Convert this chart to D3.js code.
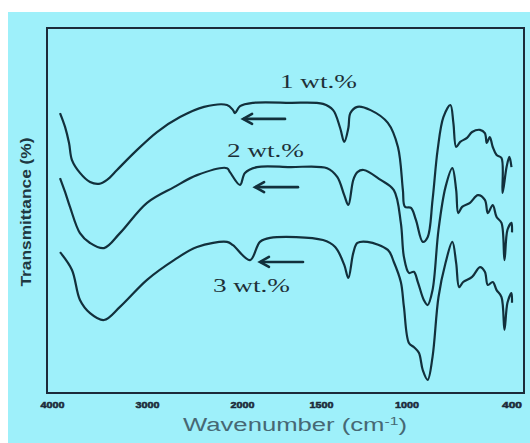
<!DOCTYPE html>
<html>
<head>
<meta charset="utf-8">
<script src="https://cdn.jsdelivr.net/npm/d3@7"></script>
<style>
  html, body { margin: 0; padding: 0; background: #fff; }
</style>
</head>
<body>
<div id="ftir-chart"></div>
<script>
// wavenumber ticks (cm-1) and where they sit; the spectrum axis is split at 2000
const tickValues = [4000, 3000, 2000, 1500, 1000, 400];
const tickLabels = ["4000", "3000", "2000", "1500", "1000", "400"];

// transmittance in arbitrary % units, curves are offset vertically
const wave1 = [3922, 3869, 3827, 3796, 3712, 3606, 3512, 3427, 3322, 3143, 2901, 2659, 2406, 2164, 2101, 2080, 2027, 1934, 1700, 1491, 1432, 1391, 1367, 1343, 1331, 1290, 1213, 1112, 1053, 1024, 1012, 977, 949, 910, 882, 854, 825, 792, 752, 735, 719, 696, 657, 628, 583, 555, 544, 527, 510, 488, 460, 454, 431, 415, 403];
const trans1 = [76.7, 72.9, 68.5, 63.8, 60.3, 57.8, 57.3, 58.4, 61.1, 65.8, 71.5, 75.6, 78.4, 78.9, 77.5, 76.7, 78.6, 79.5, 79.5, 79.2, 77.5, 72.6, 68.8, 72.6, 76.7, 78.4, 77.5, 74.0, 67.4, 55.6, 51.0, 50.7, 47.4, 41.4, 42.7, 52.9, 66.6, 75.6, 78.9, 74.0, 67.4, 68.8, 69.9, 71.5, 72.1, 71.2, 68.5, 70.1, 67.4, 65.2, 64.4, 54.8, 61.9, 64.7, 61.9];

const wave2 = [3922, 3869, 3817, 3712, 3606, 3459, 3291, 3006, 2722, 2480, 2164, 2133, 2027, 1985, 1909, 1700, 1467, 1408, 1367, 1343, 1314, 1290, 1254, 1154, 1077, 1036, 1018, 989, 961, 938, 904, 882, 854, 820, 780, 741, 719, 707, 685, 640, 595, 555, 538, 510, 488, 460, 443, 426, 403, 400];
const trans2 = [58.9, 55.1, 51.0, 43.8, 41.1, 39.7, 43.8, 52.1, 56.4, 59.7, 61.6, 60.5, 57.0, 60.3, 61.9, 61.9, 61.6, 59.2, 54.2, 51.5, 58.4, 60.5, 61.1, 58.4, 55.6, 46.6, 37.3, 32.9, 33.2, 30.4, 25.5, 24.1, 28.2, 44.7, 56.4, 61.6, 55.6, 49.3, 51.0, 52.1, 54.2, 52.9, 49.3, 51.5, 48.2, 46.6, 36.4, 44.7, 46.6, 44.0];

const wave3 = [3922, 3796, 3712, 3606, 3459, 3291, 3006, 2722, 2480, 2164, 2101, 1953, 1890, 1826, 1491, 1420, 1367, 1343, 1314, 1290, 1231, 1112, 1077, 1036, 1018, 989, 961, 932, 910, 882, 854, 820, 780, 741, 719, 702, 679, 628, 583, 555, 538, 510, 488, 460, 443, 426, 403, 400];
const trans3 = [38.6, 33.7, 25.5, 21.9, 20.0, 23.6, 31.0, 36.4, 40.0, 41.4, 40.5, 36.4, 41.4, 42.5, 41.9, 40.0, 35.1, 31.5, 38.4, 41.1, 41.4, 39.2, 35.9, 30.4, 23.6, 13.7, 12.6, 11.0, 6.3, 3.6, 9.9, 26.3, 35.6, 41.4, 35.6, 29.0, 30.4, 31.8, 34.5, 33.2, 29.6, 30.4, 28.2, 26.3, 17.3, 24.7, 27.4, 24.7];

// sample names, where they are written, and the arrows pointing at the ~2000 cm-1 band
const seriesNames = ["1 wt.%", "2 wt.%", "3 wt.%"];
const labelWave = [1763, 2164, 2312];
const labelTrans = [83.6, 64.7, 27.7];
const arrowFrom = [1731, 1649, 1617];
const arrowTo = [1997, 1921, 1890];
const arrowTrans = [75.1, 56.4, 35.9];

const series = [
  { name: seriesNames[0], wave: wave1, trans: trans1 },
  { name: seriesNames[1], wave: wave2, trans: trans2 },
  { name: seriesNames[2], wave: wave3, trans: trans3 }
];

const W = 530, H = 443;
const frame = { left: 47, right: 524, top: 28, bottom: 393 };
const ink = "#12303c";

const svg = d3.select("#ftir-chart")
  .append("svg")
    .attr("width", W)
    .attr("height", H);

// cyan page, white strip on top and left like the scanned figure
svg.append("rect")
  .attr("x", 8).attr("y", 12)
  .attr("width", W - 8).attr("height", H - 12)
  .attr("fill", "#9ef0fa");

// X scale: piecewise linear, reversed (4000 on the left)
const x = d3.scaleLinear()
  .domain(tickValues)
  .range([52.6, 147.6, 242.6, 321.5, 407, 512]);

const y = d3.scaleLinear()
  .domain([0, 100])
  .range([frame.bottom, frame.top]);

// plot frame
svg.append("rect")
  .attr("x", frame.left).attr("y", frame.top)
  .attr("width", frame.right - frame.left)
  .attr("height", frame.bottom - frame.top)
  .attr("fill", "none")
  .attr("stroke", "#1c2b3a")
  .attr("stroke-width", 2);

// tick labels (blurry bold numbers under the frame)
svg.append("g")
  .selectAll("text")
  .data(tickValues)
  .join("text")
    .attr("x", d => x(d))
    .attr("y", 408)
    .attr("text-anchor", "middle")
    .attr("font-family", "Liberation Sans, Arial, sans-serif")
    .attr("font-size", "9px")
    .attr("font-weight", "bold")
    .attr("fill", "#1c2b3a")
    .attr("stroke", "#1c2b3a")
    .attr("stroke-width", 0.5)
    .attr("textLength", (d, i) => tickLabels[i].length === 4 ? 24 : 20)
    .attr("lengthAdjust", "spacingAndGlyphs")
    .text((d, i) => tickLabels[i]);

// X label
const xLabel = svg.append("text")
  .attr("x", 183)
  .attr("y", 431)
  .attr("font-family", "Liberation Sans, Arial, sans-serif")
  .attr("font-size", "18px")
  .attr("fill", "#466874")
  .attr("textLength", 224)
  .attr("lengthAdjust", "spacingAndGlyphs");
xLabel.append("tspan").text("Wavenumber (cm");
xLabel.append("tspan").attr("dy", -6).attr("font-size", "11px").text("-1");
xLabel.append("tspan").attr("dy", 6).text(")");

// Y label
svg.append("text")
  .attr("transform", "translate(31,212) rotate(-90)")
  .attr("text-anchor", "middle")
  .attr("font-family", "Liberation Sans Narrow, Liberation Sans, Arial, sans-serif")
  .attr("font-size", "15px")
  .attr("font-weight", "bold")
  .attr("fill", "#1e3842")
  .attr("textLength", 149)
  .attr("lengthAdjust", "spacingAndGlyphs")
  .text("Transmittance (%)");

// spectra
const line = d3.line()
  .x(d => x(d[0]))
  .y(d => y(d[1]))
  .curve(d3.curveCatmullRom.alpha(0.5));

svg.append("g")
  .selectAll("path")
  .data(series)
  .join("path")
    .attr("d", s => line(s.wave.map((w, i) => [w, s.trans[i]])))
    .attr("fill", "none")
    .attr("stroke", ink)
    .attr("stroke-width", 2.2)
    .attr("stroke-linejoin", "round");

// sample names
svg.append("g")
  .selectAll("text")
  .data(series)
  .join("text")
    .attr("x", (d, i) => x(labelWave[i]))
    .attr("y", (d, i) => y(labelTrans[i]))
    .attr("font-family", "Liberation Serif, Times New Roman, serif")
    .attr("font-size", "19px")
    .attr("fill", "#1e3038")
    .attr("textLength", 77)
    .attr("lengthAdjust", "spacingAndGlyphs")
    .text(d => d.name);

// arrows
const arrows = svg.append("g")
  .attr("stroke", ink)
  .attr("stroke-width", 2.6)
  .attr("fill", "none")
  .attr("stroke-linecap", "round");

series.forEach((s, i) => {
  const x0 = x(arrowFrom[i]), x1 = x(arrowTo[i]), yy = y(arrowTrans[i]);
  arrows.append("line")
    .attr("x1", x0).attr("y1", yy)
    .attr("x2", x1 + 1).attr("y2", yy);
  arrows.append("path")
    .attr("d", `M${x1 + 9},${yy - 5} L${x1},${yy} L${x1 + 9},${yy + 5}`);
});
</script>
</body>
</html>
